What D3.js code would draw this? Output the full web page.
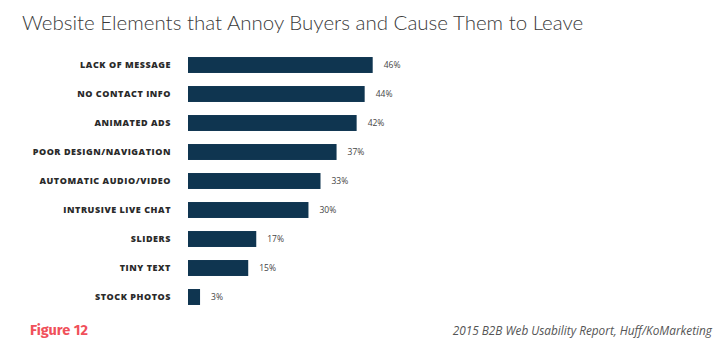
<!DOCTYPE html>
<html><head><meta charset="utf-8">
<script src="https://cdn.jsdelivr.net/npm/d3@7"></script>
<style>body{margin:0;background:#fff}svg{display:block}</style>
</head><body>
<script>
const categories = ["LACK OF MESSAGE","NO CONTACT INFO","ANIMATED ADS","POOR DESIGN/NAVIGATION","AUTOMATIC AUDIO/VIDEO","INTRUSIVE LIVE CHAT","SLIDERS","TINY TEXT","STOCK PHOTOS"];
const values = [46,44,42,37,33,30,17,15,3];
const title = "Website Elements that Annoy Buyers and Cause Them to Leave";
const figureLabel = "Figure 12";
const source = "2015 B2B Web Usability Report, Huff/KoMarketing";

const W=720,H=346;
const svg=d3.select("body").append("svg").attr("width",W).attr("height",H);
const x=d3.scaleLinear().domain([0,46]).range([188,372.7]);
const y=d3.scaleBand().domain(categories).range([50.5,311.5]).paddingInner(0.45).paddingOuter(0.225);

svg.append("text").attr("x",22).attr("y",30).attr("font-family","Lato, 'Open Sans', sans-serif")
  .attr("font-weight",300).attr("font-size",20.5).attr("fill","#3a3a3a").text(title);

svg.selectAll("rect.bar").data(values).join("rect").attr("class","bar")
  .attr("x",x(0)).attr("y",(d,i)=>y(categories[i])).attr("width",d=>x(d)-x(0))
  .attr("height",y.bandwidth()).attr("fill","#0f3550");

const yAxis=d3.axisLeft(y).tickSize(0).tickPadding(0);
const ga=svg.append("g").attr("transform","translate(171,0)").call(yAxis);
ga.select(".domain").remove();
ga.selectAll("text").attr("font-family","'Open Sans', sans-serif").attr("font-weight",800)
  .attr("font-size",9).attr("fill","#2a2a2a").attr("letter-spacing",0.55);

svg.selectAll("text.val").data(values).join("text").attr("class","val")
  .attr("x",d=>x(d)+11).attr("y",(d,i)=>y(categories[i])+y.bandwidth()/2+3)
  .attr("font-family","'Open Sans', sans-serif").attr("font-size",8.5).attr("fill","#444")
  .text(d=>d+"%");

svg.append("text").attr("x",30).attr("y",335).attr("font-family","'Fira Sans','Open Sans',sans-serif")
  .attr("font-weight",700).attr("font-size",14.5).attr("fill","#f0505a").text(figureLabel);
svg.append("text").attr("x",712).attr("y",335).attr("text-anchor","end").attr("font-family","'Open Sans',sans-serif")
  .attr("font-style","italic").attr("font-size",11.8).attr("fill","#555").text(source);
</script>
</body></html>
